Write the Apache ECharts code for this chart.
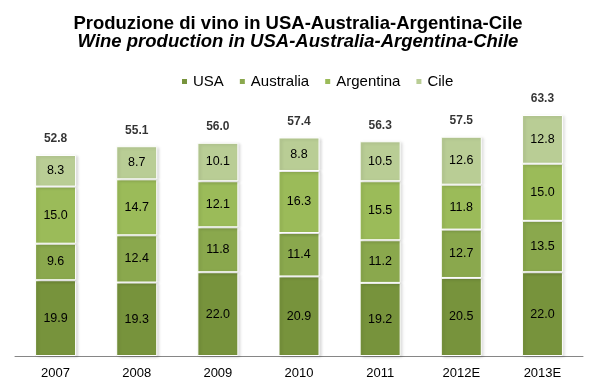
<!DOCTYPE html>
<html><head><meta charset="utf-8">
<script src="https://cdn.jsdelivr.net/npm/echarts@6/dist/echarts.min.js"></script>
<style>html,body{margin:0;padding:0;background:#fff}#c{width:596px;height:391px}</style>
</head><body><div id="c"></div>
<script>
const categories = ['2007','2008','2009','2010','2011','2012E','2013E'];
const usa = [19.9, 19.3, 22.0, 20.9, 19.2, 20.5, 22.0];
const australia = [9.6, 12.4, 11.8, 11.4, 11.2, 12.7, 13.5];
const argentina = [15.0, 14.7, 12.1, 16.3, 15.5, 11.8, 15.0];
const cile = [8.3, 8.7, 10.1, 8.8, 10.5, 12.6, 12.8];
const totals = [52.8, 55.1, 56.0, 57.4, 56.3, 57.5, 63.3];

const font = 'Liberation Sans, Arial, sans-serif';
function seg(name, data, color) {
  return {
    name, type: 'bar', stack: 'all', data, barWidth: 41,
    itemStyle: { color, borderColor: '#fff', borderWidth: 1, shadowColor: 'rgba(0,0,0,0.15)', shadowBlur: 3, shadowOffsetX: 2, shadowOffsetY: 1 },
    label: { show: true, position: 'inside', color: '#000', fontSize: 12.5, fontFamily: font, formatter: p => p.value.toFixed(1) }
  };
}
const chart = echarts.init(document.getElementById('c'));
chart.setOption({
  animation: false,
  title: {
    text: 'Produzione di vino in USA-Australia-Argentina-Cile',
    subtext: 'Wine production in USA-Australia-Argentina-Chile',
    left: 'center', top: 9, itemGap: -1,
    textStyle: { fontSize: 18.5, fontWeight: 'bold', color: '#000', fontFamily: font, lineHeight: 19 },
    subtextStyle: { fontSize: 18.5, fontStyle: 'italic', fontWeight: 'bold', color: '#000', fontFamily: font, lineHeight: 19 }
  },
  legend: {
    data: ['USA','Australia','Argentina','Cile'],
    left: 175, top: 69, itemWidth: 7, itemHeight: 7, itemGap: 14, icon: 'rect',
    textStyle: { fontSize: 15, color: '#000', fontFamily: font }
  },
  grid: { left: 15, right: 13, top: 89.5, bottom: 35, containLabel: false },
  xAxis: {
    type: 'category', data: categories,
    axisLine: { lineStyle: { color: '#868686' } },
    axisTick: { show: false },
    axisLabel: { color: '#000', fontSize: 13, fontFamily: font, margin: 11 }
  },
  yAxis: { type: 'value', min: 0, max: 70, show: false, splitLine: { show: false } },
  series: [
    seg('USA', usa, '#77933c'),
    seg('Australia', australia, '#8aa84d'),
    seg('Argentina', argentina, '#9bbb59'),
    seg('Cile', cile, '#b9cd95'),
    {
      name: 'Totale', type: 'scatter', data: totals, symbolSize: 0, silent: true,
      label: { show: true, position: 'top', distance: 10, color: '#000', fontSize: 12, fontWeight: 'bold', fontFamily: font, formatter: p => p.value.toFixed(1) }
    }
  ]
});
</script></body></html>
